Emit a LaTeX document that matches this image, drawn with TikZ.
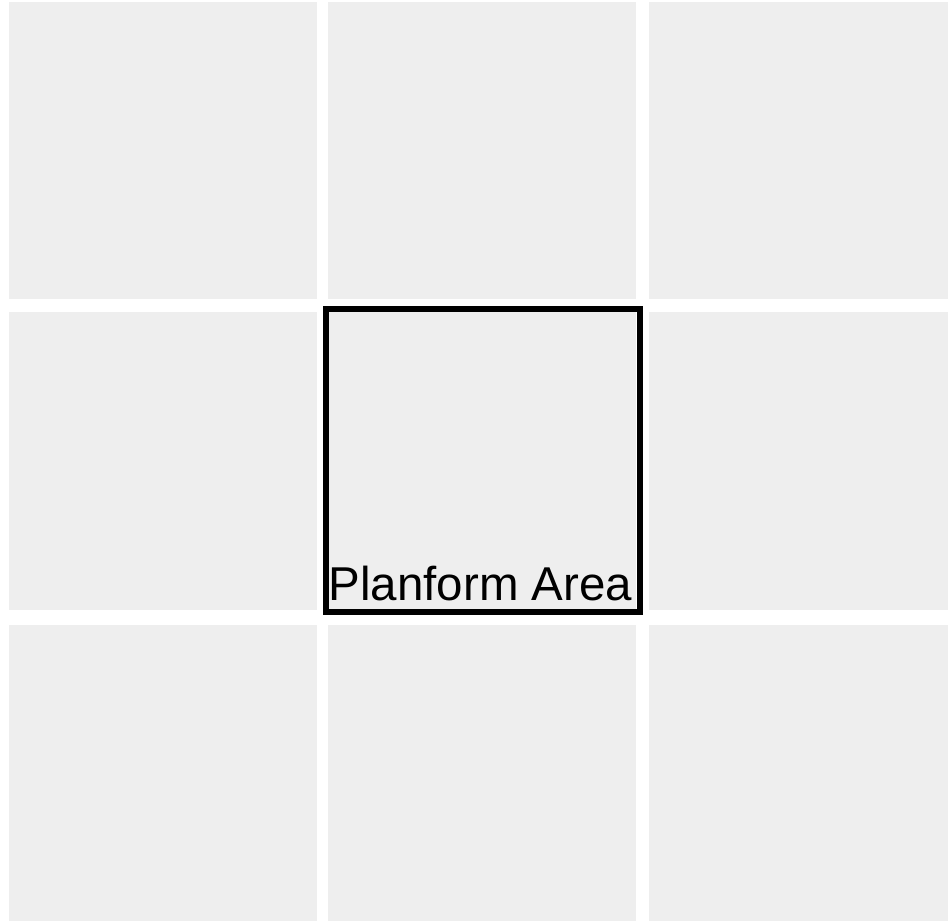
\documentclass[tikz,border=0pt]{standalone}
\usepackage{fontspec}
\setmainfont{Liberation Sans}
\usetikzlibrary{positioning}
\definecolor{tilegray}{HTML}{EEEEEE}
\tikzset{
  tile/.style={fill=tilegray, draw=none},
  planform/.style={draw=black, line width=5.5pt, line join=miter},
  arealabel/.style={inner sep=0pt, font=\fontsize{47.5pt}{52pt}\selectfont},
}
\begin{document}
\begin{tikzpicture}[x=1pt, y=-1pt]
  \fill[white] (0,0) rectangle (948,921);
  \useasboundingbox (0,0) rectangle (948,921);

  % grid of tiles
  \foreach \xa/\xb in {9/317,328/636,649/948}{
    \foreach \ya/\yb in {2/299,312/610,625/921}{
      \fill[tile] (\xa,\ya) rectangle (\xb,\yb);
    }
  }

  % the selected cell
  \draw[planform] (326,309) rectangle (640,612);
  \coordinate (labelbase) at (480.5,600.5);
  \node[arealabel, anchor=base] (area) at (labelbase) {Planform Area};
\end{tikzpicture}
\end{document}
